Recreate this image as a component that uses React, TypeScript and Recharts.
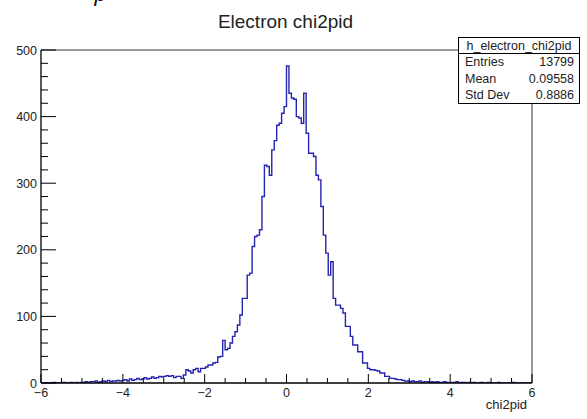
import React from 'react';
import { LineChart, Line, XAxis, YAxis, ReferenceLine } from 'recharts';

// histogram h_electron_chi2pid: 200 bins between -6 and 6
const binLow = -6;
const binHigh = 6;
const binCounts = [
  0, 0, 0, 0, 0, 1, 0, 0, 0, 1, 0, 0, 1, 0, 1, 0, 1,
  1, 2, 1, 2, 2, 3, 1, 2, 3, 2, 4, 2, 3, 3, 4, 3,
  4, 5, 3, 6, 4, 5, 7, 5, 6, 8, 6, 7, 9, 7, 8, 10, 9,
  10, 11, 10, 11, 8, 10, 10, 7, 12,
  20, 18, 15, 20, 22, 17, 22, 22, 24, 27, 27, 30, 31, 39, 40,
  64, 50, 52, 60, 70, 77, 87, 102, 127, 127, 162, 165, 205, 220, 222, 230,
  280, 327, 325, 312, 350, 364, 387, 390, 405, 415,
  476, 435, 428, 426, 400, 398, 390, 435, 375, 345, 345, 340, 312, 305,
  265, 222, 195, 162, 182, 127, 117, 117, 112, 105, 85, 85, 70, 57, 57, 47, 47,
  30, 30, 22, 20, 20, 19, 18, 15, 15, 10, 10, 7, 7, 6, 5, 5, 4, 3, 3, 2,
  3, 2, 2, 3, 1, 2, 2, 1, 2, 1,
  2, 1, 1, 2, 1, 0, 1, 1, 2, 0,
  1, 1, 0, 1, 0, 1, 0, 0, 1, 0,
  0, 1, 0, 0, 0, 1, 0, 0, 0, 0,
  0, 1, 0, 0, 0, 0, 0, 0, 0,
];

const xTicks = [-6, -5.5, -5, -4.5, -4, -3.5, -3, -2.5, -2, -1.5, -1, -0.5, 0, 0.5, 1, 1.5, 2, 2.5, 3, 3.5, 4, 4.5, 5, 5.5, 6];
const xLabelTicks = [-6, -4, -2, 0, 2, 4, 6];
const yTicks = [0, 20, 40, 60, 80, 100, 120, 140, 160, 180, 200, 220, 240, 260, 280, 300, 320, 340, 360, 380, 400, 420, 440, 460, 480, 500];
const yLabelTicks = [0, 100, 200, 300, 400, 500];

const histName = 'h_electron_chi2pid';
const statsRows = [
  ['Entries', '13799'],
  ['Mean', '0.09558'],
  ['Std Dev', '0.8886'],
];

const font = '"Liberation Sans", Arial, Helvetica, sans-serif';
const textColor = '#222';

const binWidth = (binHigh - binLow) / binCounts.length;
const data = binCounts.map((count, i) => ({ x: binLow + i * binWidth, count }));
data.push({ x: binHigh, count: binCounts[binCounts.length - 1] });

const fmt = (v: number) => (v < 0 ? '\u2212' + Math.abs(v) : String(v));

function XTick({ x, y, payload }: any) {
  const major = xLabelTicks.includes(payload.value);
  return (
    <g>
      <line x1={x} x2={x} y1={y} y2={y - (major ? 9 : 5)} stroke="#000" strokeWidth={1} />
      {major && (
        <text x={x} y={y + 14} textAnchor="middle" fontFamily={font} fontSize={12.5} fill={textColor}>
          {fmt(payload.value)}
        </text>
      )}
    </g>
  );
}

function YTick({ x, y, payload }: any) {
  const major = yLabelTicks.includes(payload.value);
  return (
    <g>
      <line x1={x} x2={x + (major ? 15 : 7)} y1={y} y2={y} stroke="#000" strokeWidth={1} />
      {major && (
        <text x={x - 4} y={y} dy="0.36em" textAnchor="end" fontFamily={font} fontSize={12.5} fill={textColor}>
          {payload.value}
        </text>
      )}
    </g>
  );
}

export default function App() {
  return (
    <div style={{ position: 'absolute', left: 0, top: 0, width: 587, height: 419, background: '#fff' }}>
      <LineChart width={587} height={419} data={data} margin={{ top: 50, right: 55, bottom: 0, left: 0 }}>
        <XAxis dataKey="x" type="number" domain={[binLow, binHigh]} ticks={xTicks} interval={0} height={36}
          tickLine={false} tickSize={0} tickMargin={0} tick={<XTick />} axisLine={{ stroke: '#000', strokeWidth: 1.3 }} />
        <YAxis type="number" domain={[0, 500]} ticks={yTicks} interval={0} width={41} allowDataOverflow
          tickLine={false} tickSize={0} tickMargin={0} tick={<YTick />} axisLine={{ stroke: '#000', strokeWidth: 1.3 }} />
        <ReferenceLine y={500} stroke="#333" strokeWidth={1} />
        <ReferenceLine x={binHigh} stroke="#333" strokeWidth={1} />
        <Line type="stepAfter" dataKey="count" stroke="#2424b0" strokeWidth={1.4} dot={false} isAnimationActive={false} />
      </LineChart>
      <svg width={587} height={419} style={{ position: 'absolute', left: 0, top: 0, pointerEvents: 'none' }}>
        <text x={93} y={1} fontFamily="DejaVu Serif, serif" fontStyle="italic" fontSize={22} fill="#111">p</text>
        <text x={285.5} y={28} textAnchor="middle" fontFamily={font} fontSize={19} fill={textColor}>Electron chi2pid</text>
        <text x={527} y={409} textAnchor="end" fontFamily={font} fontSize={13} fill={textColor}>chi2pid</text>
        <rect x={458.5} y={37.5} width={121} height={66} fill="#fff" stroke="#000" strokeWidth={1} />
        <line x1={458.5} x2={579.5} y1={53.5} y2={53.5} stroke="#000" strokeWidth={1} />
        <text x={519} y={49.5} textAnchor="middle" fontFamily={font} fontSize={12.5} fill={textColor}>{histName}</text>
        {statsRows.map(([label, value], i) => (
          <g key={label}>
            <text x={465} y={66.2 + i * 16.5} fontFamily={font} fontSize={12.5} fill={textColor}>{label}</text>
            <text x={574} y={66.2 + i * 16.5} textAnchor="end" fontFamily={font} fontSize={12.5} fill={textColor}>{value}</text>
          </g>
        ))}
      </svg>
    </div>
  );
}
